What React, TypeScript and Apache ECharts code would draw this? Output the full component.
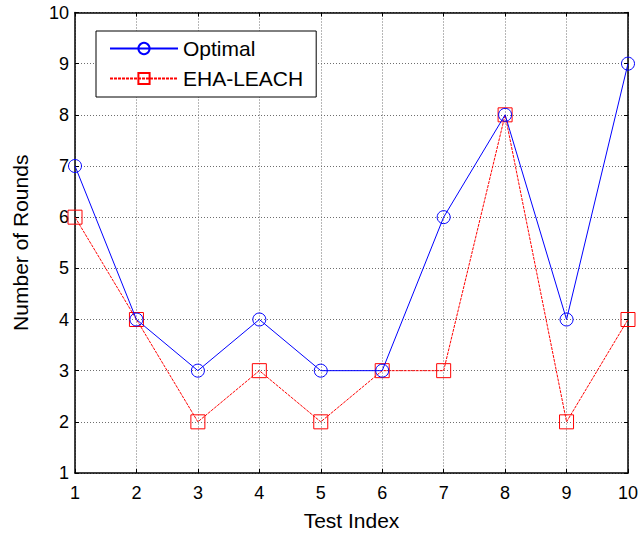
import React, { useEffect, useRef } from "react";
import * as echarts from "echarts";

const testIndex = [1, 2, 3, 4, 5, 6, 7, 8, 9, 10];
const optimal = [7, 4, 3, 4, 3, 3, 6, 8, 4, 9];
const ehaLeach = [6, 4, 2, 3, 2, 3, 3, 8, 2, 4];
const seriesNames = ["Optimal", "EHA-LEACH"];

const FONT = "'Liberation Sans', Arial, sans-serif";

export default function App() {
  const ref = useRef<HTMLDivElement>(null);

  useEffect(() => {
    if (!ref.current) return;
    const chart = echarts.init(ref.current, null, { renderer: "svg" });

    const gridLine = { show: true, lineStyle: { color: "#6e6e6e", type: [1, 2] as any, width: 1 } };
    const boxLine = { show: true, lineStyle: { color: "#000", width: 1.5 } };
    const tick = { show: true, inside: true, length: 4, lineStyle: { color: "#000" } };
    const tickLabel = { fontSize: 18, color: "#000", fontFamily: FONT };
    const nameStyle = { fontSize: 21, color: "#000", fontFamily: FONT };

    chart.setOption({
      animation: false,
      backgroundColor: "#fff",
      textStyle: { fontFamily: FONT },
      grid: { left: 75, right: 13, top: 12.5, bottom: 62, containLabel: false },
      legend: {
        orient: "vertical",
        left: 96,
        top: 31,
        padding: [7, 13, 8, 13],
        itemGap: 9,
        itemWidth: 68,
        itemHeight: 14,
        borderColor: "#000",
        borderWidth: 1,
        backgroundColor: "#fff",
        textStyle: { fontSize: 21, color: "#000", fontFamily: FONT },
        data: seriesNames,
      },
      xAxis: [
        {
          type: "value",
          min: 1,
          max: 10,
          interval: 1,
          name: "Test Index",
          nameLocation: "middle",
          nameGap: 37,
          nameTextStyle: nameStyle,
          axisLine: boxLine,
          axisTick: tick,
          axisLabel: { ...tickLabel, margin: 11 },
          splitLine: gridLine,
        },
        {
          type: "value",
          position: "top",
          min: 1,
          max: 10,
          interval: 1,
          axisLine: boxLine,
          axisTick: tick,
          axisLabel: { show: false },
          splitLine: { show: false },
        },
      ],
      yAxis: [
        {
          type: "value",
          min: 1,
          max: 10,
          interval: 1,
          name: "Number of Rounds",
          nameLocation: "middle",
          nameGap: 44,
          nameTextStyle: nameStyle,
          axisLine: boxLine,
          axisTick: tick,
          axisLabel: { ...tickLabel, margin: 6 },
          splitLine: gridLine,
        },
        {
          type: "value",
          position: "right",
          min: 1,
          max: 10,
          interval: 1,
          axisLine: boxLine,
          axisTick: tick,
          axisLabel: { show: false },
          splitLine: { show: false },
        },
      ],
      series: [
        {
          name: seriesNames[0],
          type: "line",
          data: testIndex.map((x, i) => [x, optimal[i]]),
          symbol: "circle",
          symbolSize: 13,
          lineStyle: { color: "#0000ff", width: 1 },
          itemStyle: { color: "rgba(0,0,0,0)", borderColor: "#0000ff", borderWidth: 1 },
          z: 3,
        },
        {
          name: seriesNames[1],
          type: "line",
          data: testIndex.map((x, i) => [x, ehaLeach[i]]),
          symbol: "rect",
          symbolSize: 14,
          lineStyle: { color: "#ff0000", width: 1, type: [3, 1] as any },
          itemStyle: { color: "rgba(0,0,0,0)", borderColor: "#ff0000", borderWidth: 1 },
          z: 2,
        },
      ],
    });

    return () => chart.dispose();
  }, []);

  return <div ref={ref} style={{ width: 641, height: 536, position: "absolute", left: 0, top: 0 }} />;
}
